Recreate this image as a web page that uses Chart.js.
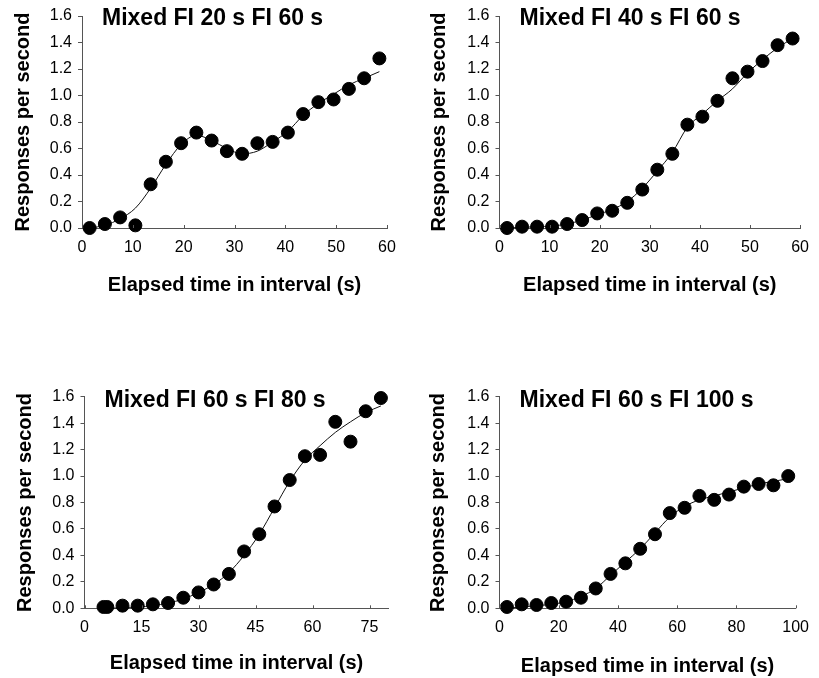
<!DOCTYPE html>
<html>
<head>
  <script src="https://cdn.jsdelivr.net/npm/chart.js"></script>
  <style>
    body { margin: 0; background: #fff; }
    .panel { position: absolute; }
  </style>
</head>
<body>
  <div class="panel" style="left:0px;top:0px"><canvas id="c1" width="410" height="310"></canvas></div>
  <div class="panel" style="left:410px;top:0px"><canvas id="c2" width="409" height="310"></canvas></div>
  <div class="panel" style="left:0px;top:330px"><canvas id="c3" width="410" height="348"></canvas></div>
  <div class="panel" style="left:410px;top:330px"><canvas id="c4" width="409" height="348"></canvas></div>
</body>
<script>
  // Panel titles
  var panelTitles = ['Mixed FI 20 s FI 60 s', 'Mixed FI 40 s FI 60 s', 'Mixed FI 60 s FI 80 s', 'Mixed FI 60 s FI 100 s'];

  // Mixed FI 20 s FI 60 s
  var fi20Time = [1.5, 4.5, 7.5, 10.5, 13.5, 16.5, 19.5, 22.5, 25.5, 28.5, 31.5, 34.5, 37.5, 40.5, 43.5, 46.5, 49.5, 52.5, 55.5, 58.5];
  var fi20Rate = [0.00, 0.03, 0.08, 0.02, 0.33, 0.50, 0.64, 0.72, 0.66, 0.58, 0.56, 0.64, 0.65, 0.72, 0.86, 0.95, 0.97, 1.05, 1.13, 1.28];
  var fi20Fit  = [0.00, 0.02, 0.07, 0.15, 0.30, 0.48, 0.63, 0.70, 0.66, 0.60, 0.56, 0.58, 0.65, 0.73, 0.85, 0.94, 1.01, 1.08, 1.13, 1.18];

  // Mixed FI 40 s FI 60 s
  var fi40Time = [1.5, 4.5, 7.5, 10.5, 13.5, 16.5, 19.5, 22.5, 25.5, 28.5, 31.5, 34.5, 37.5, 40.5, 43.5, 46.5, 49.5, 52.5, 55.5, 58.5];
  var fi40Rate = [0.00, 0.01, 0.01, 0.01, 0.03, 0.06, 0.11, 0.13, 0.19, 0.29, 0.44, 0.56, 0.78, 0.84, 0.96, 1.13, 1.18, 1.26, 1.38, 1.43];
  var fi40Fit  = [0.00, 0.005, 0.01, 0.015, 0.03, 0.06, 0.10, 0.14, 0.20, 0.30, 0.43, 0.57, 0.76, 0.86, 0.96, 1.05, 1.17, 1.27, 1.36, 1.43];

  // Mixed FI 60 s FI 80 s
  var fi80Time = [5, 6, 10, 14, 18, 22, 26, 30, 34, 38, 42, 46, 50, 54, 58, 62, 66, 70, 74, 78];
  var fi80Rate = [0.01, 0.01, 0.02, 0.02, 0.03, 0.04, 0.08, 0.12, 0.18, 0.26, 0.43, 0.56, 0.77, 0.97, 1.15, 1.16, 1.41, 1.26, 1.49, 1.59];
  var fi80Fit  = [0.00, 0.00, 0.005, 0.01, 0.02, 0.04, 0.07, 0.12, 0.18, 0.27, 0.40, 0.56, 0.76, 0.96, 1.12, 1.23, 1.33, 1.41, 1.48, 1.53];

  // Mixed FI 60 s FI 100 s
  var fi100Time = [2.5, 7.5, 12.5, 17.5, 22.5, 27.5, 32.5, 37.5, 42.5, 47.5, 52.5, 57.5, 62.5, 67.5, 72.5, 77.5, 82.5, 87.5, 92.5, 97.5];
  var fi100Rate = [0.01, 0.03, 0.025, 0.04, 0.05, 0.08, 0.15, 0.26, 0.34, 0.45, 0.56, 0.72, 0.76, 0.85, 0.82, 0.86, 0.92, 0.94, 0.93, 1.00];
  var fi100Fit  = [0.00, 0.01, 0.02, 0.03, 0.05, 0.09, 0.15, 0.25, 0.35, 0.45, 0.57, 0.69, 0.77, 0.82, 0.85, 0.88, 0.91, 0.94, 0.96, 0.98];

  var FONT = '"Liberation Sans", Arial, sans-serif';
  var AXIS = '#555';

  function toPoints(xs, ys) {
      return xs.map((x, i) => ({x: x, y: ys[i]}));
  }

  // panel title drawn inside the plot, plus short inward ticks on the x axis
  var panelDecor = {
      id: 'panelDecor',
      afterDraw(chart, args, opts) {
          var ctx = chart.ctx;
          var area = chart.chartArea;
          var xs = chart.scales.x;
          ctx.save();
          ctx.strokeStyle = AXIS;
          ctx.lineWidth = 1;
          xs.ticks.forEach(t => {
              var px = Math.round(xs.getPixelForValue(t.value)) + 0.5;
              ctx.beginPath();
              ctx.moveTo(px, area.bottom);
              ctx.lineTo(px, area.bottom - 3);
              ctx.stroke();
          });
          ctx.fillStyle = '#000';
          ctx.font = 'bold 23px ' + FONT;
          ctx.textBaseline = 'alphabetic';
          ctx.fillText(opts.text, area.left + opts.dx, area.top + opts.dy);
          ctx.restore();
      }
  };

  function makePanel(id, title, xs, rate, fit, cfg) {
      var ctx = document.getElementById(id).getContext('2d');
      return new Chart(ctx, {
          type: 'scatter',
          data: {
              datasets: [
                  {
                      label: 'Fit',
                      data: toPoints(xs, fit),
                      showLine: true,
                      borderColor: '#111',
                      borderWidth: 1,
                      pointRadius: 0,
                      cubicInterpolationMode: 'monotone',
                      clip: false,
                      order: 2,
                  },
                  {
                      label: 'Obtained',
                      data: toPoints(xs, rate),
                      backgroundColor: '#000',
                      borderColor: '#000',
                      pointRadius: 6.5,
                      clip: false,
                      order: 1,
                  },
              ],
          },
          plugins: [panelDecor],
          options: {
              responsive: false,
              animation: false,
              devicePixelRatio: 1,
              layout: {
                  padding: {top: cfg.padTop, right: cfg.padRight, left: 0, bottom: 0},
              },
              scales: {
                  x: {
                      type: 'linear',
                      min: 0,
                      max: cfg.xMax,
                      afterFit: scale => { scale.height = cfg.xHeight; },
                      ticks: {
                          stepSize: cfg.xStep,
                          includeBounds: false,
                          padding: 10,
                          color: '#000',
                          font: {family: FONT, size: 16},
                      },
                      grid: {display: true, drawOnChartArea: false, drawTicks: false},
                      border: {display: true, color: AXIS, width: 1},
                      title: {
                          display: true,
                          text: 'Elapsed time in interval (s)',
                          color: '#000',
                          font: {family: FONT, size: 20, weight: 'bold'},
                          padding: {top: 0, bottom: cfg.xTitlePad},
                      },
                  },
                  y: {
                      min: 0,
                      max: 1.6,
                      afterFit: scale => { scale.width = cfg.yWidth; },
                      ticks: {
                          stepSize: 0.2,
                          padding: 6,
                          color: '#000',
                          font: {family: FONT, size: 16},
                          callback: v => v.toFixed(1),
                      },
                      grid: {drawOnChartArea: false, drawTicks: true, tickLength: 4, color: AXIS},
                      border: {display: true, color: AXIS, width: 1},
                      title: {
                          display: true,
                          text: 'Responses per second',
                          color: '#000',
                          font: {family: FONT, size: 20, weight: 'bold'},
                          padding: {top: cfg.yTitlePad, bottom: 0},
                      },
                  },
              },
              plugins: {
                  legend: {display: false},
                  tooltip: {enabled: false},
                  panelDecor: {text: title, dx: 20, dy: cfg.titleDy},
              },
          },
      });
  }

  makePanel('c1', panelTitles[0], fi20Time, fi20Rate, fi20Fit,
      {padTop: 16, padRight: 23, yWidth: 82, xHeight: 82, xMax: 60, xStep: 10, xTitlePad: 13, yTitlePad: 11, titleDy: 9});
  makePanel('c2', panelTitles[1], fi40Time, fi40Rate, fi40Fit,
      {padTop: 16, padRight: 17, yWidth: 89.5, xHeight: 82, xMax: 60, xStep: 10, xTitlePad: 13, yTitlePad: 17, titleDy: 9});
  makePanel('c3', panelTitles[2], fi80Time, fi80Rate, fi80Fit,
      {padTop: 66.7, padRight: 21.5, yWidth: 84.5, xHeight: 69.7, xMax: 80, xStep: 15, xTitlePad: 3, yTitlePad: 13, titleDy: 10.5});
  makePanel('c4', panelTitles[3], fi100Time, fi100Rate, fi100Fit,
      {padTop: 66.7, padRight: 15.7, yWidth: 89.5, xHeight: 69.7, xMax: 100, xStep: 20, xTitlePad: 0, yTitlePad: 16, titleDy: 10});
</script>

</html>
